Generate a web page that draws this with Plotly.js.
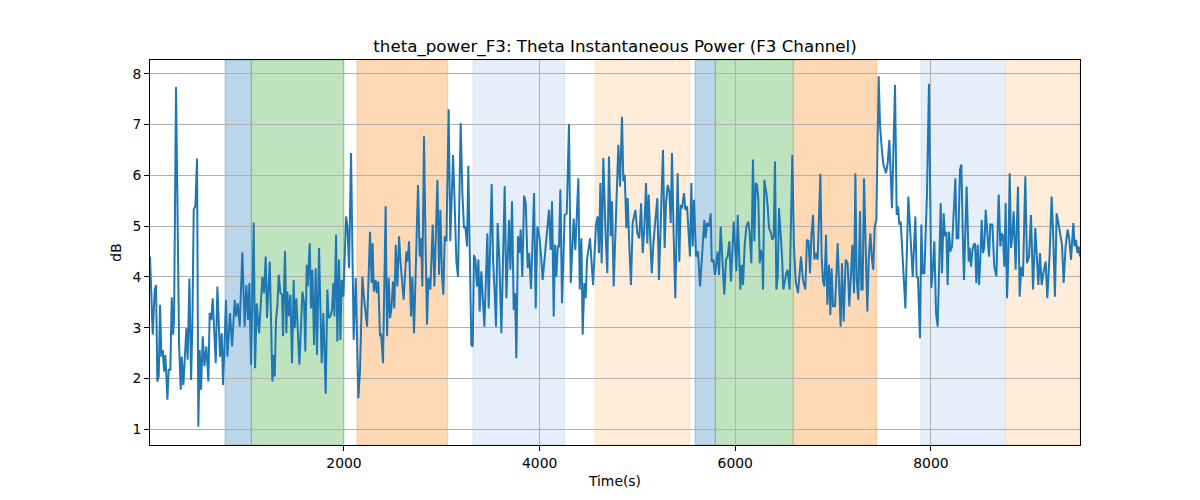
<!DOCTYPE html>
<html>
<head>
<meta charset="utf-8">
<script src="https://cdn.plot.ly/plotly-3.0.1.min.js"></script>
<style>html,body{margin:0;padding:0;background:#fff;}#chart{width:1200px;height:500px;}</style>
</head>
<body>
<div id="chart"></div>
<script>
// Time (s) of each sample
const time = [
17,45,65,79,92,106,120,133,147,161,174,195,208,225,239,253,263,283,297,314,331,341,358,372,389,402,420,437,450,464,481,498,511,525,539,556,573,593,614,627,644,658,672,689,706,719,733,750,764,794,808,835,856,883,897,914,934,961,985,1002,1019,1033,1050,1077,1091,1108,1132,1166,1183,1200,1213,
1241,1251,1261,1268,1278,1292,1305,1319,1333,1350,1367,1377,1387,1397,1411,1421,1435,1452,1469,1486,1496,1513,1544,1561,1575,1592,1605,1619,1629,1650,1663,1677,1694,1711,1724,1745,1772,1789,1813,1830,1844,1861,1878,1891,1902,1919,1932,1949,1963,1977,1994,2021,2035,2052,2072,2099,2120,2147,2164,2188,2205,2236,2266,2283,2293,2304,2324,2334,2351,2368,2379,2399,
2426,2440,2457,2471,2484,2501,2515,2529,2546,2563,2576,2610,2638,2651,2665,2685,2699,2716,2730,2757,2774,2788,2801,2818,2835,2849,2863,2883,2907,2924,2955,2972,2985,3002,3016,3030,3047,3070,3087,3115,3128,3149,3166,3193,3210,3227,3241,3258,3271,3288,3302,3316,3329,3343,3360,3374,3387,3404,3421,3435,3466,3479,3510,3524,3541,3554,3571,3588,3609,
3643,3660,3687,3701,3718,3735,3749,3762,3779,3793,3806,3823,3841,3858,3878,3892,3912,3943,3960,3977,3997,4014,4031,4062,4096,4113,4127,4144,4157,4171,4185,4198,4212,4229,4256,4277,4300,4318,4348,4365,4396,4410,4427,4440,4457,4471,4484,4515,4546,4576,4593,4607,4621,4634,4651,4675,4692,4709,4726,4740,4757,4777,4805,
4822,4842,4856,4870,4887,4900,4917,4934,4951,4979,4999,5019,5037,5054,5071,5088,5101,5115,5129,5146,5163,5180,5203,5220,5244,5261,5278,5292,5309,5326,5340,5353,5370,5387,5411,5428,5442,5456,5476,5490,5507,5524,5537,5551,5565,5578,5599,5619,5640,5660,5684,5697,5711,5732,5749,5759,5776,5793,5807,5820,5834,5851,5868,5888,5905,5922,5939,5956,5984,
6011,6025,6038,6052,6066,6079,6096,6113,6134,6147,6164,6181,6195,6209,6222,6236,6250,6263,6277,6284,6297,6318,6331,6345,6365,6379,6393,6406,6420,6434,6447,6461,6478,6491,6508,6522,6536,6556,6583,6600,6618,6641,6672,6692,6716,6733,6750,6764,6778,6795,6808,6822,6842,6856,6870,6883,6897,6911,6928,6941,6958,6972,6985,6999,7020,7047,7060,7077,7091,7108,7129,7149,7166,7197,
7214,7228,7241,7258,7275,7289,7302,7316,7333,7350,7364,7381,7398,7411,7425,7442,7466,7480,7500,7514,7541,7558,7575,7589,7602,7633,7650,7664,7677,7691,7711,7739,7769,7786,7814,7841,7854,7868,7888,7902,7916,7933,7960,7980,8004,8021,8035,8052,8069,8086,8100,8113,8130,8144,8158,8171,8185,8199,8216,8236,8250,8263,8280,8297,8311,8328,8338,8365,8386,
8396,8410,8424,8437,8451,8464,8478,8492,8505,8519,8533,8546,8560,8573,8594,8607,8628,8648,8669,8693,8710,8723,8737,8751,8764,8778,8791,8805,8819,8832,8846,8866,8890,8907,8924,8941,8965,8982,9003,9023,9044,9067,9084,9098,9115,9132,9149,9173,9190,9214,9234,9248,9268,9285,9303,9323,9340,9357,9377,9398,9415,9432,9456,9469,9483,9497,9510,9524
];

// Theta instantaneous power (dB)
const thetaPower = [
4.40,2.86,3.75,3.84,1.94,2.04,3.45,2.43,2.56,2.14,2.46,1.58,2.17,2.17,3.60,2.86,3.15,7.74,5.52,2.69,1.78,2.43,1.87,2.50,2.99,2.37,3.97,1.97,3.02,5.33,5.39,6.33,1.05,2.56,1.78,2.83,2.24,2.63,1.94,3.29,3.15,3.58,3.02,2.30,3.81,3.15,2.43,2.89,1.87,3.55,2.43,3.29,2.63,3.55,3.22,3.48,3.02,4.48,3.02,3.84,3.15,3.88,2.27,5.07,2.20,3.48,2.89,4.00,3.68,4.40,3.19,
4.30,3.22,2.50,1.94,2.46,2.04,3.15,3.42,4.04,3.68,3.65,2.83,3.71,4.51,2.89,3.71,3.22,3.65,2.30,3.94,2.99,3.58,2.27,3.09,3.71,3.48,2.53,4.24,3.81,4.66,3.38,4.14,2.66,4.17,2.46,4.57,2.30,3.29,1.70,3.75,3.19,3.22,3.35,3.88,3.22,4.83,2.73,4.34,2.76,3.94,3.61,5.19,4.99,4.17,6.44,2.76,3.98,1.61,2.17,4.00,3.58,3.02,4.89,3.88,4.66,3.71,3.94,3.68,3.91,2.83,2.89,2.30,
5.39,2.83,3.98,3.19,3.35,3.91,3.38,4.63,3.81,4.80,4.34,3.55,4.50,4.30,4.70,3.22,4.00,2.89,3.75,5.81,4.40,4.76,3.81,6.77,4.53,3.06,3.98,3.75,5.03,3.81,5.91,4.04,5.32,4.04,3.65,4.80,4.70,7.30,4.70,6.40,5.65,4.30,4.00,7.03,5.65,4.96,4.99,4.60,6.19,4.47,2.66,2.63,4.43,4.34,3.81,4.34,3.32,4.11,3.55,3.02,4.86,3.38,5.83,4.34,3.68,3.02,5.06,4.34,2.89,
5.79,3.58,5.12,4.14,5.49,3.35,3.68,2.40,4.80,4.47,4.93,4.00,5.60,5.45,4.17,4.47,3.76,5.65,3.38,4.99,4.80,4.43,3.94,4.60,5.32,4.53,5.49,3.22,4.63,4.00,4.60,4.60,5.72,3.48,5.22,5.25,7.01,3.88,5.15,4.53,5.94,3.75,4.76,2.86,3.88,3.58,4.34,4.76,3.84,5.03,5.19,4.47,5.85,4.27,6.34,4.80,4.07,6.37,4.80,5.49,3.81,4.99,6.60,
5.78,7.15,5.88,6.01,4.96,5.55,4.60,3.84,5.06,5.32,4.86,4.76,5.45,4.47,4.99,5.85,4.66,5.62,4.86,4.07,4.66,5.12,5.55,3.94,5.32,6.50,4.57,5.45,5.81,5.68,5.06,6.44,4.83,3.58,6.04,4.30,5.42,5.35,5.65,5.32,5.39,4.93,4.40,5.85,4.60,5.52,4.40,4.50,3.81,4.40,5.12,4.76,5.06,4.99,5.25,4.30,4.34,4.04,4.27,4.50,4.04,4.99,4.34,3.65,4.34,4.40,4.70,3.91,5.09,
4.11,5.22,4.60,3.75,4.24,3.84,4.60,4.99,5.09,4.86,4.27,6.31,4.70,5.85,5.81,5.52,4.27,4.53,4.34,3.75,5.91,5.65,5.39,4.96,4.86,4.73,4.80,6.27,3.75,4.01,5.35,4.99,4.40,3.75,3.94,4.07,4.14,3.75,6.40,4.60,3.91,3.68,4.40,3.94,3.75,4.73,4.70,4.07,4.80,5.22,4.34,4.47,4.34,5.25,6.03,4.40,3.91,3.81,4.83,3.45,4.24,3.25,4.17,3.42,3.42,4.66,3.75,3.02,4.27,3.12,4.34,4.27,3.42,4.63,
3.68,6.04,3.94,3.55,5.29,3.75,3.75,5.94,4.60,3.32,4.34,4.86,4.34,4.14,4.99,5.12,7.95,6.96,6.47,6.21,6.04,6.24,6.70,6.11,5.35,7.78,5.22,5.39,5.03,5.09,4.27,3.38,5.58,4.93,4.00,5.19,4.00,3.98,2.79,5.03,4.07,4.07,5.65,7.80,3.78,4.20,4.70,3.29,3.02,4.34,5.45,4.07,5.25,4.80,4.89,3.84,4.89,4.50,4.60,5.39,5.94,4.76,4.76,6.11,6.21,4.63,3.94,5.78,4.30,
4.57,4.20,4.53,4.63,4.66,3.88,4.63,3.84,4.34,5.12,4.47,4.60,5.32,4.99,4.40,5.03,5.03,4.20,4.01,5.62,4.60,4.86,4.80,4.20,5.45,3.58,4.34,6.04,4.57,4.80,5.29,4.14,5.78,3.61,4.20,4.01,5.98,4.27,4.40,5.22,3.75,4.96,4.27,3.84,4.47,3.84,4.07,4.30,3.58,4.47,5.58,4.93,3.61,5.25,5.06,4.80,4.63,3.88,4.60,4.93,4.73,4.34,5.06,4.60,4.73,4.47,4.60,4.40
];

// Shaded phases: start / end time (s) and phase kind
const phaseStart = [784, 1053, 2133, 3319, 4566, 5588, 5796, 6593, 7898, 8770];
const phaseEnd   = [1053, 2000, 3060, 4256, 5534, 5796, 6593, 7446, 8760, 9524];
const phaseKind  = ['A', 'B', 'C', 'D', 'E', 'A', 'B', 'C', 'D', 'E'];

// Axis ticks
const xTicks = [2000, 4000, 6000, 8000];
const yTicks = [1, 2, 3, 4, 5, 6, 7, 8];

const kindColor = {
  A: 'rgba(31,119,180,0.3)',
  B: 'rgba(44,160,44,0.3)',
  C: 'rgba(255,127,14,0.3)',
  D: 'rgba(31,100,200,0.11)',
  E: 'rgba(255,140,30,0.17)'
};

const shapes = phaseStart.map((s, i) => ({
  type: 'rect', xref: 'x', yref: 'paper', x0: s, x1: phaseEnd[i], y0: 0, y1: 1,
  fillcolor: kindColor[phaseKind[i]],
  line: {color: kindColor[phaseKind[i]], width: 1},
  layer: 'below'
}));

const trace = {
  x: time, y: thetaPower, type: 'scatter', mode: 'lines',
  line: {color: '#1f77b4', width: 2}, hoverinfo: 'skip'
};

const font = {family: 'DejaVu Sans, sans-serif', color: '#000'};

const layout = {
  width: 1200, height: 500,
  margin: {l: 150, r: 120, t: 60, b: 55},
  paper_bgcolor: '#fff', plot_bgcolor: '#fff',
  showlegend: false,
  font: Object.assign({size: 14}, font),
  title: {
    text: 'theta_power_F3: Theta Instantaneous Power (F3 Channel)',
    font: Object.assign({size: 16.7}, font),
    x: 0.5, xref: 'paper', xanchor: 'center',
    y: 1, yref: 'paper', yanchor: 'bottom', pad: {b: 8}
  },
  xaxis: {
    range: [17, 9524], tickvals: xTicks, ticktext: xTicks.map(String),
    ticks: 'outside', ticklen: 5, tickwidth: 1, tickcolor: '#000',
    showline: true, mirror: true, linecolor: '#000', linewidth: 1,
    showgrid: true, gridcolor: '#b0b0b0', gridwidth: 1, zeroline: false,
    tickfont: Object.assign({size: 13.9}, font),
    title: {text: 'Time(s)', font: Object.assign({size: 13.9}, font), standoff: 6}
  },
  yaxis: {
    range: [0.69, 8.27], tickvals: yTicks, ticktext: yTicks.map(String),
    ticks: 'outside', ticklen: 5, tickwidth: 1, tickcolor: '#000',
    showline: true, mirror: true, linecolor: '#000', linewidth: 1,
    showgrid: true, gridcolor: '#b0b0b0', gridwidth: 1, zeroline: false,
    tickfont: Object.assign({size: 13.9}, font),
    title: {text: 'dB', font: Object.assign({size: 13.9}, font), standoff: 7}
  },
  shapes: shapes
};

Plotly.newPlot('chart', [trace], layout, {displayModeBar: false, staticPlot: true});
</script>
</body>
</html>
